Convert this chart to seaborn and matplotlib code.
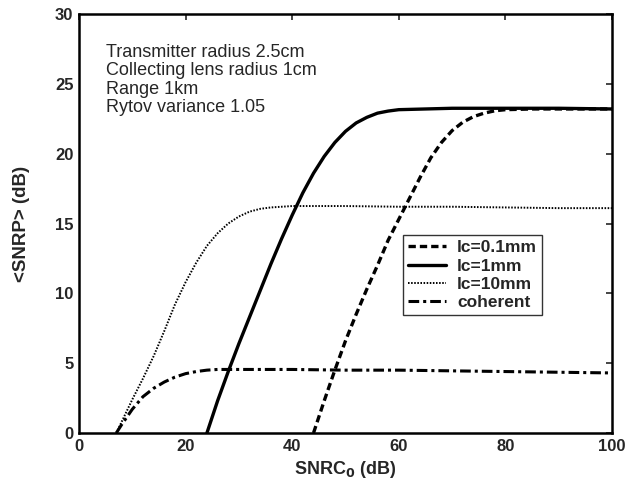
import matplotlib
matplotlib.use("Agg")
import matplotlib.pyplot as plt
import seaborn as sns
import pandas as pd

# ---- data ----
x_lc01 = [44, 46, 48, 50, 52, 54, 56, 58, 60, 62, 64, 66, 68, 70, 72, 74, 76, 78, 80, 85, 90, 100]
y_lc01 = [0, 2.3, 4.5, 6.6, 8.5, 10.3, 12.0, 13.8, 15.3, 16.8, 18.3, 19.7, 20.8, 21.65, 22.25, 22.65, 22.9, 23.07, 23.15, 23.2, 23.2, 23.2]

x_lc1 = [24, 26, 28, 30, 32, 34, 36, 38, 40, 42, 44, 46, 48, 50, 52, 54, 56, 58, 60, 65, 70, 80, 90, 100]
y_lc1 = [0, 2.3, 4.4, 6.4, 8.3, 10.2, 12.1, 13.9, 15.6, 17.2, 18.6, 19.8, 20.8, 21.6, 22.2, 22.6, 22.9, 23.05, 23.15, 23.2, 23.25, 23.25, 23.25, 23.2]

x_lc10 = [7, 8, 10, 12, 14, 16, 18, 20, 22, 24, 26, 28, 30, 32, 34, 36, 40, 50, 60, 70, 80, 90, 100]
y_lc10 = [0, 0.8, 2.4, 3.9, 5.5, 7.3, 9.2, 10.8, 12.2, 13.4, 14.3, 15.0, 15.5, 15.85, 16.05, 16.15, 16.25, 16.25, 16.2, 16.2, 16.15, 16.1, 16.1]

x_coh = [7, 8, 10, 12, 14, 16, 18, 20, 22, 24, 26, 30, 40, 50, 60, 70, 80, 90, 100]
y_coh = [0, 0.6, 1.7, 2.6, 3.2, 3.65, 4.0, 4.25, 4.4, 4.5, 4.55, 4.55, 4.55, 4.5, 4.5, 4.45, 4.4, 4.35, 4.3]

labels = ["lc=0.1mm", "lc=1mm", "lc=10mm", "coherent"]
xticks = [0, 20, 40, 60, 80, 100]
yticks = [0, 5, 10, 15, 20, 25, 30]
annotation = ["Transmitter radius 2.5cm", "Collecting lens radius 1cm",
              "Range 1km", "Rytov variance 1.05"]

sns.set_style("white")
plt.rcParams['font.family'] = ['Liberation Sans', 'DejaVu Sans']

fig = plt.figure(figsize=(6.29, 4.82), dpi=100)
ax = fig.add_axes([79/629, (482-433)/482, 533/629, 419/482])

series = [(x_lc01, y_lc01), (x_lc1, y_lc1), (x_lc10, y_lc10), (x_coh, y_coh)]
styles = [dict(lw=2.4, dashes=(2.2, 1.2)),
          dict(lw=2.4),
          dict(lw=1.4, dashes=(0.8, 0.8)),
          dict(lw=2.2, dashes=(3.5, 1.3, 1.0, 1.3))]

for (xs, ys), lab, st in zip(series, labels, styles):
    df = pd.DataFrame({"x": xs, "y": ys})
    line_kw = {k: v for k, v in st.items() if k != "dashes"}
    sns.lineplot(data=df, x="x", y="y", ax=ax, color="black", label=lab, **line_kw)
    if "dashes" in st:
        ax.get_lines()[-1].set_dashes(st["dashes"])

ax.set_xlim(0, 100)
ax.set_ylim(0, 30)
ax.set_xticks(xticks)
ax.set_yticks(yticks)
ax.tick_params(direction="in", length=4, width=1.2, top=True, right=True,
               labelsize=12, pad=4)
for t in ax.get_xticklabels() + ax.get_yticklabels():
    t.set_fontweight("bold")
for sp in ax.spines.values():
    sp.set_linewidth(1.8)
    sp.set_color("black")

ax.set_xlabel("SNRC$_\\mathbf{0}$ (dB)", fontsize=13, fontweight="bold", labelpad=4)
ax.set_ylabel("<SNRP> (dB)", fontsize=13.5, fontweight="bold", labelpad=18)

ax.text(0.05, 0.928, "\n".join(annotation), transform=ax.transAxes,
        fontsize=13, va="top", ha="left", linespacing=1.1)

leg = ax.legend(loc="upper left", bbox_to_anchor=(0.608, 0.4726), borderaxespad=0,
                frameon=True, fancybox=False, edgecolor="black", handlelength=2.2,
                prop={"weight": "bold", "size": 12.5}, labelspacing=0.18,
                borderpad=0.3, handletextpad=0.6)
leg.get_frame().set_linewidth(1.0)

fig.savefig("out.png", dpi=100)
